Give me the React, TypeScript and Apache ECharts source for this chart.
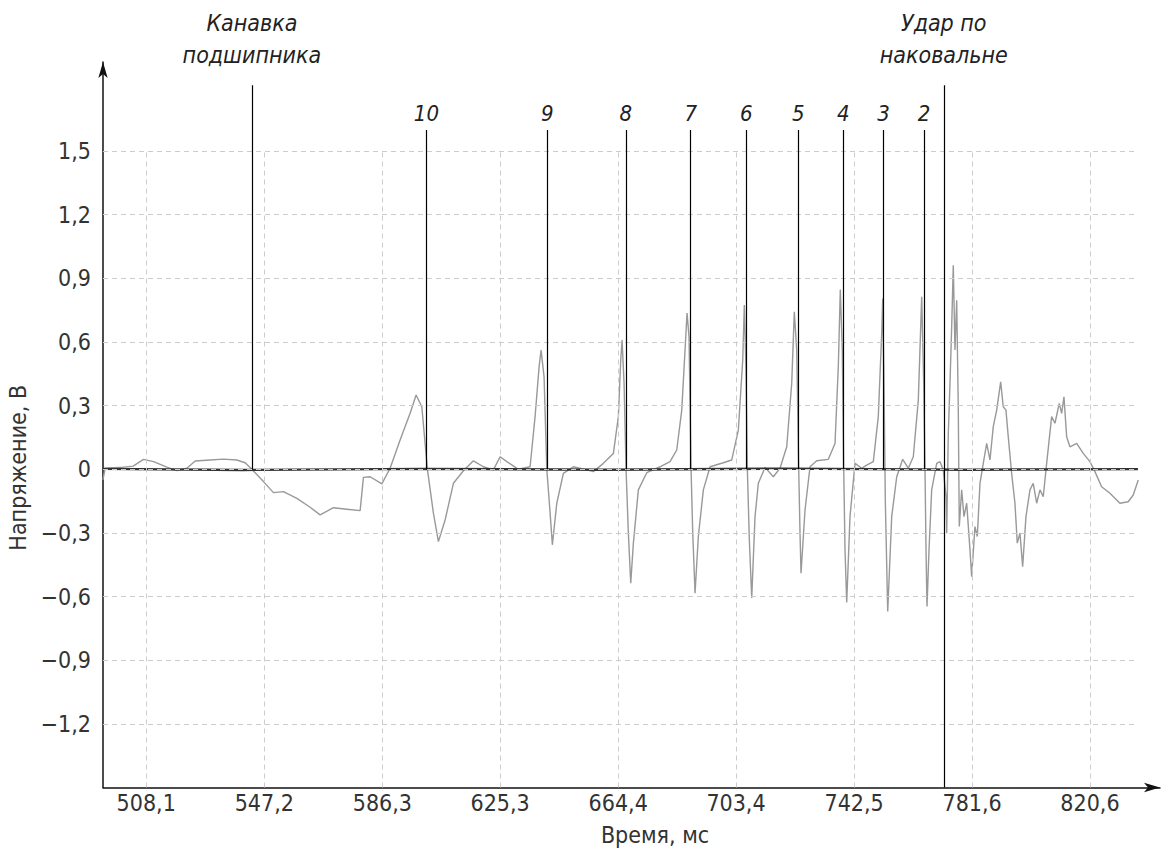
import React, { useEffect, useRef } from 'react';
import * as echarts from 'echarts';

// Axis ticks
const xTickValues = [508.1, 547.2, 586.3, 625.3, 664.4, 703.4, 742.5, 781.6, 820.6];
const xTickLabels = ['508,1', '547,2', '586,3', '625,3', '664,4', '703,4', '742,5', '781,6', '820,6'];
const yTickValues = [-1.2, -0.9, -0.6, -0.3, 0, 0.3, 0.6, 0.9, 1.2, 1.5];
const yTickLabels = ['−1,2', '−0,9', '−0,6', '−0,3', '0', '0,3', '0,6', '0,9', '1,2', '1,5'];

// Event markers (time, ms)
const markerTimes = [600.9, 640.9, 666.9, 688.4, 706.8, 724.0, 738.9, 752.3, 765.7];
const markerLabels = ['10', '9', '8', '7', '6', '5', '4', '3', '2'];
const grooveTime = 543.1;
const grooveLabel = 'Канавка\nподшипника';
const impactTime = 772.2;
const impactLabel = 'Удар по\nнаковальне';

// Measured signal: [time ms, voltage V]
const signal: [number, number][] = [
  [493.77, -0.05], [494.53, 0.005], [500.59, 0.01], [503.8, 0.015], [507.21, 0.047],
  [510.52, 0.036], [514.95, 0.01], [518.26, -0.006], [521.57, 0.005], [524.32, 0.039],
  [529.29, 0.044], [533.69, 0.048], [538.13, 0.044], [540.87, 0.031], [543.09, 0],
  [546.93, -0.058], [550.24, -0.11], [553.55, -0.105], [557.99, -0.137], [562.39, -0.179],
  [565.7, -0.215], [570.1, -0.181], [574.54, -0.188], [578.94, -0.195], [580.04, -0.038],
  [582.25, -0.035], [586.13, -0.069], [588.87, 0.005], [592.18, 0.138], [595.49, 0.264],
  [597.48, 0.35], [599.37, 0.295], [601.22, 0], [603.21, -0.207], [604.86, -0.341],
  [607.08, -0.239], [609.83, -0.066], [613.14, -0.007], [616.45, 0.04], [619.76, 0.012],
  [623.07, -0.003], [625.29, 0.059], [627.51, 0.036], [631.35, 0], [635.22, 0.012],
  [636.87, 0.248], [638.2, 0.483], [638.86, 0.562], [639.85, 0.436], [640.75, 0],
  [641.61, -0.16], [642.6, -0.356], [644.06, -0.16], [646.24, -0.019], [649.55, 0.012],
  [653.99, -0.003], [656.17, -0.011], [659.48, 0.028], [662.8, 0.075], [664.45, 0.248],
  [665.24, 0.515], [665.68, 0.609], [666.34, 0.405], [667.0, 0], [667.76, -0.301],
  [668.55, -0.537], [669.42, -0.348], [671.07, -0.097], [673.85, -0.016], [678.25, 0.012],
  [681.56, 0.036], [683.78, 0.091], [685.44, 0.279], [686.53, 0.562], [687.19, 0.737],
  [687.85, 0.624], [688.52, 0], [689.08, -0.301], [689.84, -0.584], [690.93, -0.317],
  [692.59, -0.097], [694.81, 0.012], [699.21, 0.031], [701.99, 0.044], [704.18, 0.185],
  [705.63, 0.515], [706.16, 0.774], [706.72, 0.467], [707.16, 0], [707.82, -0.333],
  [708.61, -0.607], [709.7, -0.223], [710.8, -0.066], [713.01, 0.009], [715.76, -0.035],
  [717.98, 0.005], [720.2, 0.106], [721.85, 0.405], [722.71, 0.742], [723.51, 0.562],
  [724.17, 0], [724.6, -0.301], [724.93, -0.49], [726.26, -0.192], [727.91, 0.012],
  [730.13, 0.04], [733.97, 0.047], [736.19, 0.122], [737.28, 0.483], [737.94, 0.847],
  [738.6, 0.562], [739.07, 0], [739.5, -0.38], [740.06, -0.628], [741.15, -0.223],
  [742.81, 0.028], [745.03, 0.005], [746.68, 0.02], [748.87, 0.036], [750.52, 0.248],
  [751.65, 0.64], [751.98, 0.805], [752.41, 0.405], [752.84, -0.145], [753.64, -0.67],
  [754.96, -0.223], [756.62, -0.035], [758.6, 0.047], [760.46, 0.005], [762.11, 0.059],
  [763.77, 0.326], [764.89, 0.813], [765.56, 0.405], [765.99, 0], [766.32, -0.38],
  [766.65, -0.647], [767.31, -0.38], [768.2, -0.097], [769.86, 0.028], [770.95, 0.036],
  [772.04, -0.003], [772.93, -0.129], [773.17, -0.301], [773.7, 0.169], [774.26, 0.405],
  [774.82, 0.671], [775.35, 0.962], [775.91, 0.562], [776.48, 0.797], [777.0, 0.295],
  [777.34, -0.27], [778.13, -0.097], [778.89, -0.223], [779.79, -0.16], [780.88, -0.38],
  [781.44, -0.506], [782.53, -0.27], [783.3, -0.317], [784.19, -0.066], [785.28, 0.028],
  [786.41, 0.122], [787.5, 0.044], [788.59, 0.201], [789.72, 0.279], [791.04, 0.412],
  [791.9, 0.295], [792.79, 0.279], [793.56, 0.153], [794.68, -0.019], [795.77, -0.16],
  [796.54, -0.348], [797.43, -0.301], [798.32, -0.459], [799.42, -0.223], [800.74, -0.097],
  [801.83, -0.066], [802.96, -0.16], [804.05, -0.097], [805.14, -0.129], [806.27, 0.028],
  [807.92, 0.248], [809.02, 0.217], [810.44, 0.311], [811.24, 0.264], [812.0, 0.342],
  [812.89, 0.153], [813.98, 0.106], [816.2, 0.122], [818.39, 0.075], [820.6, 0.036],
  [822.26, -0.011], [824.47, -0.082], [827.22, -0.113], [830.53, -0.16], [833.28, -0.153],
  [834.94, -0.121], [836.6, -0.05],
];

// Reference channel (flat near zero)
const baseline: [number, number][] = [
  [493.8, 0.002], [540.0, -0.003], [600.0, 0.002], [660.0, -0.002], [720.0, 0.003],
  [780.0, -0.002], [836.5, 0.001],
];

const X_MIN = 493.8;
const X_MAX = 843.8;
const Y_MIN = -1.5;
const Y_MAX = 1.92;
const GRID_X_END = 836.5;
const GRID_Y_TOP = 1.5;

const FONT = "'Liberation Sans Narrow', 'DejaVu Sans Condensed', 'Arial Narrow', sans-serif";

function lookup(values: number[], labels: string[], v: number) {
  const i = values.findIndex((t) => Math.abs(t - v) < 1e-6);
  return i >= 0 ? labels[i] : '';
}

export default function App() {
  const ref = useRef<HTMLDivElement>(null);

  useEffect(() => {
    if (!ref.current) return;
    const chart = echarts.init(ref.current, undefined, { renderer: 'svg' });

    const gridLines: any[] = [
      ...yTickValues.map((v) => [{ coord: [X_MIN, v] }, { coord: [GRID_X_END, v] }]),
      ...xTickValues.map((t) => [{ coord: [t, Y_MIN] }, { coord: [t, GRID_Y_TOP] }]),
    ];

    const topLabel = { fontSize: 23, lineHeight: 32, distance: 14 };
    const eventLines: any[] = [
      [
        { coord: [grooveTime, 0], name: grooveLabel },
        { coord: [grooveTime, 1.81], label: topLabel },
      ],
      ...markerTimes.map((t, i) => [
        { coord: [t, 0], name: markerLabels[i] },
        { coord: [t, 1.6] },
      ]),
      [
        { coord: [impactTime, Y_MIN], name: impactLabel },
        { coord: [impactTime, 1.81], label: topLabel },
      ],
    ];

    chart.setOption({
      animation: false,
      backgroundColor: '#ffffff',
      grid: {
        left: 103,
        right: 3,
        top: 62,
        bottom: 60.5,
        containLabel: false,
        outerBoundsMode: 'none',
      },
      xAxis: {
        type: 'value',
        min: X_MIN,
        max: X_MAX,
        axisLine: {
          show: true,
          onZero: false,
          symbol: ['none', 'arrow'],
          symbolSize: [7, 16],
          lineStyle: { color: '#111', width: 1.5 },
        },
        axisTick: { show: false },
        splitLine: { show: false },
        axisLabel: {
          customValues: xTickValues,
          formatter: (v: number) => lookup(xTickValues, xTickLabels, v),
          fontFamily: FONT,
          fontSize: 23,
          color: '#333',
          margin: 4,
        },
        name: 'Время, мс',
        nameLocation: 'middle',
        nameGap: 36,
        nameTextStyle: { fontFamily: FONT, fontSize: 23, color: '#333', padding: [0, 0, 0, 47] },
      },
      yAxis: {
        type: 'value',
        min: Y_MIN,
        max: Y_MAX,
        axisLine: {
          show: true,
          onZero: false,
          symbol: ['none', 'arrow'],
          symbolSize: [7, 16],
          lineStyle: { color: '#111', width: 1.5 },
        },
        axisTick: { show: false },
        splitLine: { show: false },
        axisLabel: {
          customValues: yTickValues,
          formatter: (v: number) => lookup(yTickValues, yTickLabels, v),
          fontFamily: FONT,
          fontSize: 23,
          color: '#333',
          margin: 12,
        },
        name: 'Напряжение, В',
        nameLocation: 'middle',
        nameGap: 70,
        nameTextStyle: { fontFamily: FONT, fontSize: 23, color: '#333', padding: [0, 86, 0, 0] },
      },
      series: [
        {
          type: 'line',
          data: [],
          silent: true,
          z: 1,
          markLine: {
            silent: true,
            symbol: ['none', 'none'],
            label: { show: false },
            emphasis: { disabled: true },
            lineStyle: { color: '#cccccc', width: 1, type: [5, 4] },
            data: gridLines,
          },
        },
        {
          type: 'line',
          data: signal,
          showSymbol: false,
          symbol: 'none',
          silent: true,
          z: 3,
          lineStyle: { color: '#999999', width: 1.4 },
        },
        {
          type: 'line',
          data: baseline,
          showSymbol: false,
          symbol: 'none',
          silent: true,
          z: 4,
          lineStyle: { color: '#333333', width: 2.4 },
          markLine: {
            silent: true,
            symbol: ['none', 'none'],
            emphasis: { disabled: true },
            lineStyle: { color: '#000', width: 1.2, type: 'solid' },
            label: {
              show: true,
              position: 'end',
              formatter: '{b}',
              fontFamily: FONT,
              fontStyle: 'italic',
              fontSize: 22,
              color: '#222',
              distance: 5,
            },
            data: eventLines,
          },
        },
      ],
    });

    return () => chart.dispose();
  }, []);

  return (
    <div
      ref={ref}
      style={{ position: 'fixed', left: 0, top: 0, width: 1163, height: 848, background: '#fff' }}
    />
  );
}
